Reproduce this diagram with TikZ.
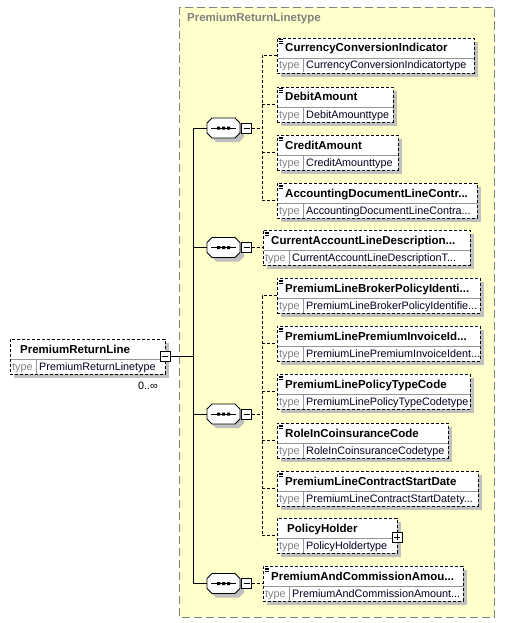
\documentclass[tikz,border=0pt]{standalone}
\usepackage{fontspec}
\setmainfont{Liberation Sans}
\definecolor{contfill}{RGB}{255,255,204}
\definecolor{contborder}{RGB}{128,128,128}
\definecolor{shadowc}{RGB}{192,192,192}
\definecolor{divc}{RGB}{150,150,150}
\definecolor{typegray}{RGB}{128,128,128}
\definecolor{typeval}{RGB}{0,0,30}
\tikzset{
  ebox/.style={draw=black, fill=white, line width=0.8pt, dash pattern=on 3pt off 2pt, inner sep=0pt, outer sep=0pt},
  nametext/.style={anchor=base west, inner sep=0pt, font=\bfseries\fontsize{11.5}{13}\selectfont, text=black},
  typelbl/.style={anchor=base west, inner sep=0pt, font=\fontsize{10.8}{12}\selectfont, text=typegray},
  typevaltext/.style={anchor=base west, inner sep=0pt, font=\fontsize{10.8}{12}\selectfont, text=typeval},
  minusbox/.style={draw=black, fill=white, line width=0.8pt, minimum size=10pt, inner sep=0pt, outer sep=0pt,
    path picture={\draw[line width=0.8pt] ([xshift=2pt]path picture bounding box.west) -- ([xshift=-2pt]path picture bounding box.east);}},
  plusbox/.style={minusbox,
    path picture={\draw[line width=0.8pt] ([xshift=2pt]path picture bounding box.west) -- ([xshift=-2pt]path picture bounding box.east)
      ([yshift=-2pt]path picture bounding box.north) -- ([yshift=2pt]path picture bounding box.south);}},
  scon/.style={draw=black, line width=0.8pt},
  dcon/.style={draw=black, line width=0.8pt, dash pattern=on 3pt off 2pt},
  seqshape/.style={draw=black, fill=white, line width=0.8pt},
}
% element box: id, x, y(top), width, name, type, icon flag, name offset
\newcommand\elembox[8]{%
\begin{scope}[shift={(#2,#3)}]
  \fill[shadowc] (4,4) rectangle (#4+4,39);
  \node[ebox, minimum width=#4 pt, minimum height=35pt, anchor=north west] (#1) at (0,0) {};
  \draw[divc, line width=0.7pt] (0.5,20) -- (#4-0.5,20) (26,20) -- (26,34.5);
  \node[nametext] at (#8,14) {#5};
  \node[typelbl] at (2,31) {type};
  \node[typevaltext] at (29,31) {#6};
  \ifnum#7=1 \draw[line width=0.6pt] (1.5,1.8)--(6,1.8) (1.5,3.6)--(6,3.6) (1.5,5.4)--(6,5.4);\fi
\end{scope}}
% sequence compositor: id, x(left), y(center)
\newcommand\seqnode[3]{%
\begin{scope}[shift={(#2,#3)}]
  \fill[shadowc] (9,-6) -- (32,-6) -- (37,-1) -- (37,9) -- (32,14) -- (9,14) -- (4,9) -- (4,-1) -- cycle;
  \draw[seqshape] (5,-10) -- (28,-10) -- (33,-5) -- (33,5) -- (28,10) -- (5,10) -- (0,5) -- (0,-5) -- cycle;
  \draw[line width=0.8pt] (4,0) -- (29,0);
  \fill[black] (10,-1.5) rectangle (13,1.5) (15,-1.5) rectangle (18,1.5) (20,-1.5) rectangle (23,1.5);
  \coordinate (#1w) at (0,0);
  \node[minusbox] (#1m) at (39.5,0) {};
\end{scope}}
\begin{document}
\begin{tikzpicture}[x=1pt,y=-1pt]
\useasboundingbox (0,0) rectangle (506,623);
% container
\draw[fill=contfill, draw=contborder, line width=0.8pt, dash pattern=on 8pt off 4pt] (179.5,7.5) rectangle (494.5,617);
\node[anchor=base west, inner sep=0pt, font=\bfseries\fontsize{11.5}{13}\selectfont, text=typegray] (title) at (187,21.5) {PremiumReturnLinetype};

% left element
\elembox{root}{10}{339}{155}{PremiumReturnLine}{PremiumReturnLinetype}{0}{10}
\node[minusbox] (rootm) at (165,356) {};
\node[anchor=base east, inner sep=0pt, font=\fontsize{10.8}{12}\selectfont, text=black] (occ) at (158,389) {0..∞};

% sequences
\seqnode{sa}{207}{128}
\seqnode{sb}{207}{247.5}
\seqnode{sc}{207}{414}
\seqnode{sd}{207}{583.5}

% children
\elembox{ea}{277}{38}{197}{CurrencyConversionIndicator}{CurrencyConversionIndicatortype}{1}{8}
\elembox{eb}{277}{87}{116}{DebitAmount}{DebitAmounttype}{1}{8}
\elembox{ec}{277}{135}{121}{CreditAmount}{CreditAmounttype}{1}{8}
\elembox{ed}{277}{183}{200}{AccountingDocumentLineContr...}{AccountingDocumentLineContra...}{1}{8}
\elembox{ee}{263}{230}{207}{CurrentAccountLineDescription...}{CurrentAccountLineDescriptionT...}{1}{8}
\elembox{ef}{277}{278}{203}{PremiumLineBrokerPolicyIdenti...}{PremiumLineBrokerPolicyIdentifie...}{1}{8}
\elembox{eg}{277}{326}{203}{PremiumLinePremiumInvoiceId...}{PremiumLinePremiumInvoiceIdent...}{1}{8}
\elembox{eh}{277}{374}{193}{PremiumLinePolicyTypeCode}{PremiumLinePolicyTypeCodetype}{1}{8}
\elembox{ei}{277}{423}{171}{RoleInCoinsuranceCode}{RoleInCoinsuranceCodetype}{1}{8}
\elembox{ej}{277}{471}{201}{PremiumLineContractStartDate}{PremiumLineContractStartDatety...}{1}{8}
\elembox{ek}{277}{518}{120}{PolicyHolder}{PolicyHoldertype}{0}{10}
\node[plusbox] (ekp) at (397,537) {};
\elembox{el}{263}{566}{200}{PremiumAndCommissionAmou...}{PremiumAndCommissionAmount...}{1}{8}

% solid connectors
\coordinate (jroot) at (193,356);
\coordinate (ja) at (193,128);
\coordinate (jd) at (193,583.5);
\draw[scon] (rootm.east) -- (jroot);
\draw[scon] (saw) -| (jd) -- (sdw);
\draw[scon] (sbw -| ja) -- (sbw);
\draw[scon] (scw -| ja) -- (scw);

% dashed connectors
\coordinate (va) at (262,128);
\coordinate (vc) at (262,414);
\draw[dcon] (sam.east) -- (va);
\draw[dcon] (ea.west) -- (ea.west -| va) |- (ed.west);
\draw[dcon] (eb.west -| va) -- (eb.west);
\draw[dcon] (ec.west -| va) -- (ec.west);
\draw[dcon] (sbm.east) -- (ee.west);
\draw[dcon] (scm.east) -- (vc);
\draw[dcon] (ef.west) -- (ef.west -| vc) |- (ek.west);
\draw[dcon] (eg.west -| vc) -- (eg.west);
\draw[dcon] (eh.west -| vc) -- (eh.west);
\draw[dcon] (ei.west -| vc) -- (ei.west);
\draw[dcon] (ej.west -| vc) -- (ej.west);
\draw[dcon] (sdm.east) -- (el.west);
\end{tikzpicture}
\end{document}
